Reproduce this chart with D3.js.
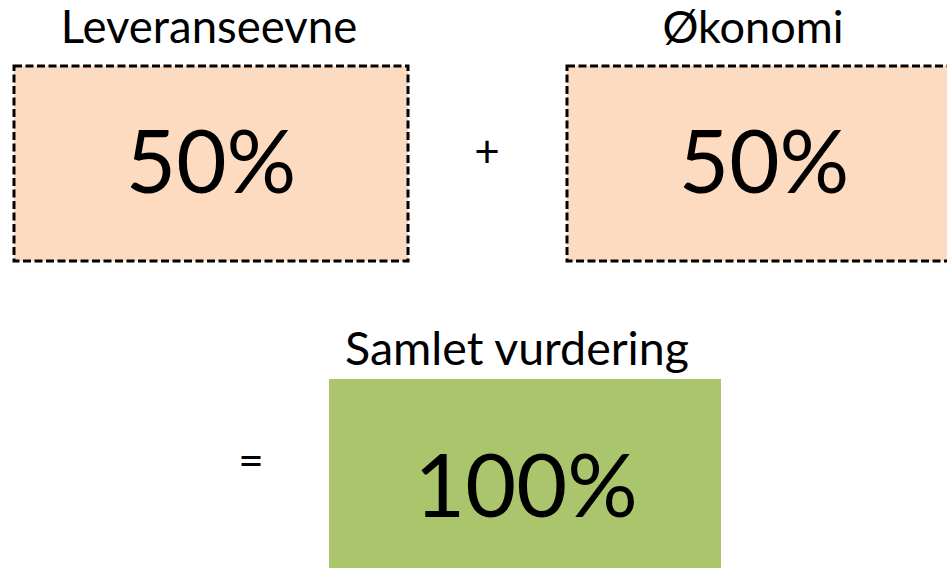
<!DOCTYPE html>
<html>
<head>
<meta charset="utf-8">
<script src="https://cdn.jsdelivr.net/npm/d3@7"></script>
<style>
  body { margin: 0; background: #fff; }
  svg { display: block; }
  text { font-family: Lato, "Open Sans", sans-serif; fill: #000; }
</style>
</head>
<body>
<svg width="947" height="568"></svg>
<script>
const parts = ['Leveranseevne', 'Økonomi'];
const weights = [50, 50];
const totalLabel = 'Samlet vurdering';
const total = d3.sum(weights);

const svg = d3.select('svg');
const fmt = d => d + '%';

// two input boxes side by side
const boxW = 394, boxH = 195, boxY = 66;
const xb = d3.scaleOrdinal().domain(parts).range([14, 567]);

const partG = svg.selectAll('g.part')
  .data(parts.map((p, i) => ({ name: p, value: weights[i] })))
  .enter()
  .append('g')
  .attr('class', 'part')
  .attr('transform', d => `translate(${xb(d.name)},${boxY})`);

partG.append('rect')
  .attr('width', boxW)
  .attr('height', boxH)
  .attr('fill', '#fcdbc1')
  .attr('stroke', '#000')
  .attr('stroke-width', 3)
  .attr('stroke-dasharray', '8,3.5');

partG.append('text')
  .attr('x', (d, i) => i === 0 ? boxW / 2 - 2 : boxW / 2 - 11)
  .attr('y', -23)
  .attr('text-anchor', 'middle')
  .attr('font-size', (d, i) => i === 0 ? 45.5 : 45)
  .text(d => d.name);

partG.append('text')
  .attr('x', boxW / 2)
  .attr('y', 127)
  .attr('text-anchor', 'middle')
  .attr('font-size', 87)
  .text(d => fmt(d.value));

// operators
svg.append('text')
  .attr('x', 487).attr('y', 167)
  .attr('text-anchor', 'middle')
  .attr('font-size', 44)
  .text('+');

svg.append('text')
  .attr('x', 251).attr('y', 476)
  .attr('text-anchor', 'middle')
  .attr('font-size', 44)
  .text('=');

// total box
const g = svg.append('g').attr('transform', 'translate(329,379)');
g.append('rect')
  .attr('width', 392)
  .attr('height', 200)
  .attr('fill', '#abc56c');

g.append('text')
  .attr('x', 188).attr('y', -14)
  .attr('text-anchor', 'middle')
  .attr('font-size', 46.5)
  .text(totalLabel);

g.append('text')
  .attr('x', 197).attr('y', 138)
  .attr('text-anchor', 'middle')
  .attr('font-size', 88)
  .text(fmt(total));
</script>
</body>
</html>
